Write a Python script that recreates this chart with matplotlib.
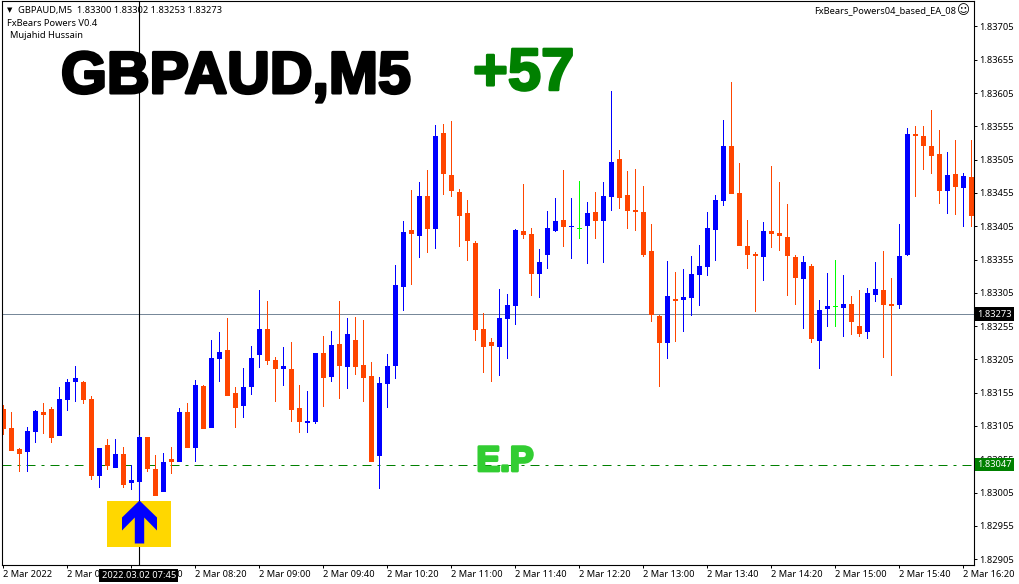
import matplotlib
matplotlib.use("Agg")
import matplotlib.pyplot as plt
import numpy as np
from matplotlib.path import Path
import matplotlib.patheffects as pe

plt.rcParams["font.family"] = ["Noto Sans", "DejaVu Sans"]

# prices are in points above 1.83000
BASE = 1.83
POINT = 0.00001
opens = [130, 102, 70, 66, 96, 126, 131, 90, 144, 171,
         171, 146, 30, 76, 42, 63, 19, 21, 88, 40,
         6, 55, 51, 126, 72, 165, 102, 206, 219, 155,
         135, 164, 212, 251, 204, 191, 191, 132, 109, 111,
         215, 179, 228, 194, 234, 197, 180, 60, 168, 195,
         314, 400, 391, 451, 401, 545, 482, 457, 425, 380,
         251, 231, 224, 266, 285, 398, 394, 334, 362, 398,
         415, 404, 401, 406, 427, 413, 449, 506, 452, 430,
         427, 368, 270, 230, 296, 294, 297, 332, 344, 400,
         443, 525, 455, 376, 364, 359, 398, 395, 389, 359,
         326, 346, 233, 281, 284, 282, 288, 255, 246, 302,
         309, 288, 287, 362, 543, 541, 526, 513, 458, 484,
         463, 479]
highs = [137, 126, 72, 103, 129, 140, 134, 164, 176, 195,
         173, 150, 72, 85, 85, 73, 46, 91, 88, 61,
         64, 73, 132, 140, 174, 167, 234, 246, 267, 164,
         192, 225, 309, 293, 209, 224, 231, 167, 158, 215,
         240, 248, 293, 267, 269, 264, 201, 179, 213, 347,
         413, 460, 472, 490, 557, 559, 563, 461, 445, 383,
         275, 237, 311, 303, 401, 469, 403, 371, 428, 448,
         490, 448, 473, 442, 457, 472, 608, 520, 488, 491,
         466, 409, 272, 353, 337, 341, 361, 377, 427, 452,
         564, 621, 500, 415, 367, 412, 496, 472, 439, 362,
         361, 349, 294, 335, 355, 332, 300, 309, 312, 352,
         368, 328, 409, 553, 555, 555, 579, 550, 516, 534,
         485, 534]
lows = [91, 67, 36, 36, 79, 93, 79, 90, 127, 141,
        138, 24, 12, 39, 42, 12, 9, -6, 36, 0,
        6, 33, 51, 72, 51, 100, 102, 171, 150, 102,
        117, 152, 192, 197, 141, 165, 111, 94, 94, 108,
        134, 171, 146, 161, 182, 141, 51, 10, 132, 176,
        278, 317, 358, 365, 371, 452, 449, 374, 353, 233,
        185, 171, 180, 206, 257, 386, 300, 297, 341, 397,
        374, 356, 386, 349, 386, 350, 428, 431, 401, 398,
        359, 261, 164, 206, 231, 246, 270, 285, 331, 353,
        436, 454, 376, 341, 276, 323, 373, 368, 300, 287,
        251, 230, 191, 254, 254, 239, 242, 239, 236, 291,
        207, 180, 281, 361, 449, 490, 484, 439, 424, 422,
        404, 404]
closes = [100, 67, 63, 97, 127, 121, 87, 146, 171, 177,
          144, 30, 72, 45, 63, 16, 24, 88, 40, 0,
          51, 51, 126, 72, 167, 100, 207, 216, 150, 132,
          164, 207, 251, 203, 191, 195, 129, 111, 112, 215,
          177, 227, 195, 243, 194, 177, 51, 170, 195, 317,
          397, 394, 451, 401, 541, 484, 458, 421, 383, 249,
          224, 225, 267, 287, 400, 392, 334, 352, 403, 413,
          404, 405, 401, 425, 413, 451, 502, 448, 428, 427,
          362, 272, 230, 300, 293, 299, 334, 346, 403, 445,
          525, 454, 376, 362, 361, 398, 394, 391, 361, 328,
          352, 236, 279, 285, 284, 288, 261, 243, 305, 311,
          287, 285, 361, 544, 540, 525, 511, 458, 482, 464,
          481, 421]

x_labels = ["2 Mar 2022", "2 Mar 07:00", "2 Mar 07:40", "2 Mar 08:20", "2 Mar 09:00",
            "2 Mar 09:40", "2 Mar 10:20", "2 Mar 11:00", "2 Mar 11:40", "2 Mar 12:20",
            "2 Mar 13:00", "2 Mar 13:40", "2 Mar 14:20", "2 Mar 15:00", "2 Mar 15:40",
            "2 Mar 16:20"]
y_ticks = [1.83705, 1.83655, 1.83605, 1.83555, 1.83505, 1.83455, 1.83405, 1.83355, 1.83305,
           1.83255, 1.83205, 1.83155, 1.83105, 1.83055, 1.83005, 1.82955, 1.82905]

bid_price = 1.83273
entry_price = 1.83047
signal_bar = 17
signal_price = 1.82958

BLUE = "#0000ff"
ORANGE = "#ff4500"
DOJI = "#00ff00"
W, H = 1020, 584
TXT = 6.7


def put_text(x, y, s, **kw):
    return fig.text(x / W, 1 - y / H, s, **kw)


o = BASE + np.array(opens) * POINT
h = BASE + np.array(highs) * POINT
l = BASE + np.array(lows) * POINT
c = BASE + np.array(closes) * POINT
bars = np.arange(len(o))
colors = [BLUE if b > a else ORANGE if b < a else DOJI for a, b in zip(opens, closes)]

fig = plt.figure(figsize=(W / 100, H / 100), dpi=100)
ax = fig.add_axes([2.5 / W, 1 - 564.5 / H, 971.5 / W, 564 / H])
# 8 px per bar, bar centres fall on pixel centres
ax.set_xlim(-0.125, 121.3125)
ax.set_ylim(1.82897, 1.83744)

ax.axhline(bid_price, color="#778899", lw=0.72, zorder=1)
ax.axhline(entry_price, color="#008000", lw=0.72, ls=(0, (9, 6, 3, 6)), zorder=1)
ax.axvline(signal_bar, color="black", lw=0.8, zorder=1.5)

# wicks and bodies as bars so they stay on whole pixels, dojis keep 1 px of body
ax.bar(bars, h - l, bottom=l, width=0.125, color=colors, linewidth=0, zorder=2)
ax.bar(bars, np.maximum(np.abs(c - o), 1.5 * POINT), bottom=np.minimum(o, c), width=0.625,
       color=colors, linewidth=0, zorder=2.1)

# buy signal, yellow box with arrow on the entry bar
box_marker = Path([(-32, -23), (32, -23), (32, 23), (-32, 23), (-32, -23)])
arrow_marker = Path([(0, 24), (17.5, 7), (17.5, -6), (4.7, 7), (4.7, -19), (-4.7, -19),
                     (-4.7, 7), (-17.5, -6), (-17.5, 7), (0, 24)])
ax.plot(signal_bar, signal_price, marker=box_marker, ms=46.08, color="#ffd700", mew=0, zorder=3)
ax.plot(signal_bar, signal_price, marker=arrow_marker, ms=34.56, color=BLUE, mew=0, zorder=4)

ax.yaxis.tick_right()
ax.set_yticks(y_ticks)
ax.set_yticklabels([f"{t:.5f}" for t in y_ticks], fontsize=TXT)
ax.set_xticks(bars[::8])
ax.set_xticklabels(x_labels, fontsize=TXT, ha="left")
ax.tick_params(axis="y", length=2.5, width=0.72, pad=1.5)
ax.tick_params(axis="x", length=2.5, width=0.72, pad=1.5)
for spine in ax.spines.values():
    spine.set_linewidth(0.8)

for price, bg in [(bid_price, "black"), (entry_price, "#008000")]:
    ax.annotate(f"{price:.5f}", xy=(1, price), xycoords=ax.get_yaxis_transform(),
                xytext=(2.4, 0), textcoords="offset points", va="center", ha="left",
                fontsize=TXT, color="white", zorder=10, annotation_clip=False,
                bbox=dict(boxstyle="square,pad=0.25", fc=bg, ec="none"))

ax.annotate("2022.03.02 07:45", xy=(signal_bar, 0), xycoords=ax.get_xaxis_transform(),
            xytext=(-0.5, -7.8), textcoords="offset points", va="center", ha="center",
            fontsize=TXT, color="white", zorder=10, annotation_clip=False,
            bbox=dict(boxstyle="square,pad=0.25", fc="black", ec="none"))

put_text(7, 11, "▼", fontsize=5, va="center", color="black")
put_text(18, 11, "GBPAUD,M5  1.83300 1.83302 1.83253 1.83273", fontsize=TXT, va="center", color="black")
put_text(7, 23, "FxBears Powers V0.4", fontsize=TXT, va="center", color="black")
put_text(10, 35, "Mujahid Hussain", fontsize=TXT, va="center", color="black")
put_text(956, 11, "FxBears_Powers04_based_EA_08", fontsize=TXT, va="center", ha="right", color="black")
put_text(963, 11, "☺", fontsize=9, va="center", ha="center", color="black", family="DejaVu Sans")

stroke = [pe.withStroke(linewidth=2.2, foreground="black")]
put_text(61, 93, "GBPAUD,M5", fontsize=42.5, family="Liberation Sans", weight="bold", color="black",
         va="baseline", path_effects=stroke)
stroke = [pe.withStroke(linewidth=1.8, foreground="#008000")]
put_text(473, 90, "+57", fontsize=43, family="Liberation Sans", weight="bold", color="#008000",
         va="baseline", path_effects=stroke)
stroke = [pe.withStroke(linewidth=2.0, foreground="#32cd32")]
put_text(476.5, 471, "E.P", fontsize=25.5, family="Liberation Sans", weight="bold", color="#32cd32",
         va="baseline", path_effects=stroke)

fig.savefig("out.png", dpi=100)
